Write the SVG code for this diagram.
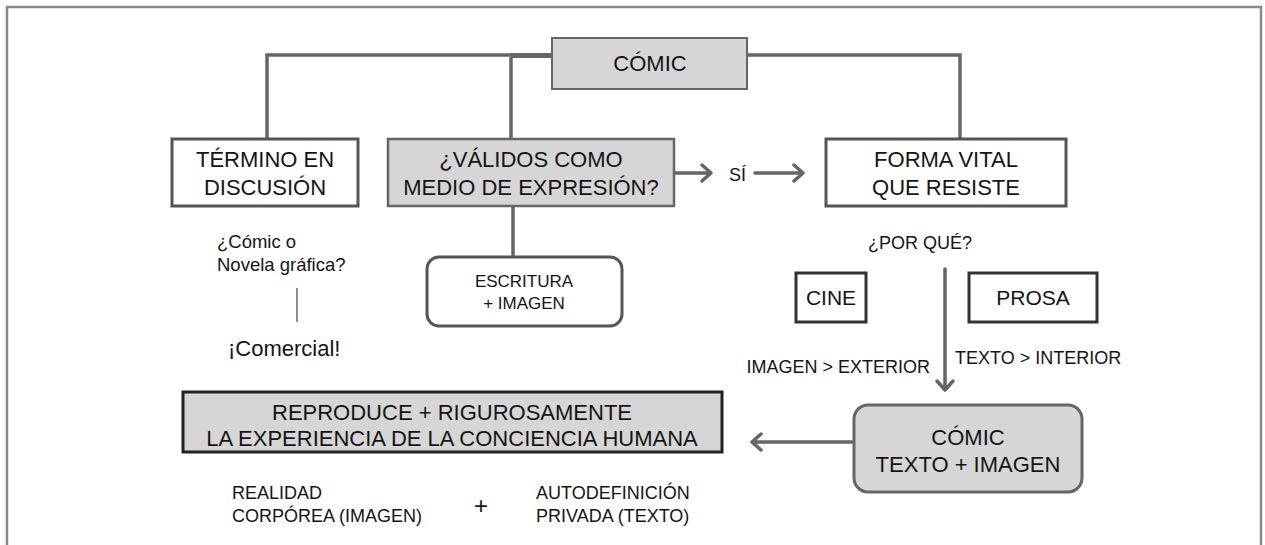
<svg xmlns="http://www.w3.org/2000/svg" width="1265" height="545" viewBox="0 0 1265 545">
<defs>
<style>
text{font-family:"Liberation Sans",Arial,sans-serif;fill:#141414}
.big{font-size:22px;text-anchor:middle}
.sm{font-size:18px}
.box{fill:#fff;stroke:#555;stroke-width:3}
.gbox{fill:#d6d6d6;stroke:#666;stroke-width:2}
.ln{stroke:#666;stroke-width:3.5;fill:none}
.arr{stroke:#666;stroke-width:3.5;fill:none;stroke-linecap:round;stroke-linejoin:round}
</style>
</defs>
<rect width="1265" height="545" fill="#fff"/>
<path d="M7,545 V7 H1261 V545" fill="none" stroke="#8a8a8a" stroke-width="2.5"/>

<g id="connectors">
<path class="ln" d="M267,138 V55 H552"/>
<path class="ln" d="M511,138 V57"/>
<path d="M511,53 H552 V58 H511 Z" fill="#666"/>
<path class="ln" d="M747,55 H960 V138"/>
<path class="ln" d="M513,207 V257"/>
<path class="ln" d="M297,288 V322" style="stroke-width:1.5"/>
<path class="arr" d="M675,173 H711 M702,165 L711,173 L702,181"/>
<path class="arr" d="M755,173 H803 M794,165 L803,173 L794,181"/>
<path class="arr" d="M945,269 V390 M937,381 L945,390 L953,381"/>
<path class="arr" d="M852,442 H752 M761,434 L752,442 L761,450"/>
</g>

<g id="comic">
<rect class="gbox" x="552" y="38" width="195" height="51"/>
<text class="big" x="650" y="71">CÓMIC</text>
</g>

<g id="termino">
<rect class="box" x="172" y="139" width="186" height="67"/>
<text class="big" x="265" y="167">TÉRMINO EN</text>
<text class="big" x="265" y="195">DISCUSIÓN</text>
</g>

<g id="validos">
<rect class="gbox" x="388" y="139" width="286" height="67" style="stroke-width:2.5"/>
<text class="big" x="531" y="167">¿VÁLIDOS COMO</text>
<text class="big" x="531" y="195">MEDIO DE EXPRESIÓN?</text>
</g>

<text class="sm" x="729" y="181">SÍ</text>

<g id="forma">
<rect class="box" x="826" y="139" width="240" height="67"/>
<text class="big" x="946" y="167">FORMA VITAL</text>
<text class="big" x="946" y="195">QUE RESISTE</text>
</g>

<g id="discusion-notes">
<text x="217" y="248" style="font-size:18.5px">¿Cómic o</text>
<text x="217" y="271" style="font-size:18.5px">Novela gráfica?</text>
<text x="228" y="356" style="font-size:22px">¡Comercial!</text>
</g>

<g id="escritura">
<rect class="box" x="427" y="257" width="195" height="69" rx="12"/>
<text x="524" y="287" style="font-size:17px;text-anchor:middle">ESCRITURA</text>
<text x="524" y="309" style="font-size:17px;text-anchor:middle">+ IMAGEN</text>
</g>

<text class="sm" x="920" y="249" text-anchor="middle">¿POR QUÉ?</text>

<g id="cine">
<rect class="box" x="796" y="273" width="70" height="49" style="stroke:#333"/>
<text class="big" x="831" y="305" style="font-size:21px">CINE</text>
</g>

<g id="prosa">
<rect class="box" x="969" y="273" width="128" height="49" style="stroke:#333"/>
<text class="big" x="1033" y="305" style="font-size:21px">PROSA</text>
</g>

<text class="sm" x="930" y="373" text-anchor="end">IMAGEN &gt; EXTERIOR</text>
<text class="sm" x="955" y="364">TEXTO &gt; INTERIOR</text>

<g id="reproduce">
<rect x="183" y="392" width="539" height="60" fill="#d6d6d6" stroke="#222" stroke-width="3"/>
<text class="big" x="452" y="420">REPRODUCE + RIGUROSAMENTE</text>
<text class="big" x="452" y="446">LA EXPERIENCIA DE LA CONCIENCIA HUMANA</text>
</g>

<g id="comic-texto">
<rect x="854" y="405" width="228" height="87" rx="14" fill="#d6d6d6" stroke="#666" stroke-width="3"/>
<text class="big" x="968" y="445">CÓMIC</text>
<text class="big" x="968" y="472">TEXTO + IMAGEN</text>
</g>

<g id="bottom-notes">
<text class="sm" x="232" y="499">REALIDAD</text>
<text class="sm" x="232" y="522">CORPÓREA (IMAGEN)</text>
<text x="481" y="514" style="font-size:24px;text-anchor:middle">+</text>
<text class="sm" x="536" y="499">AUTODEFINICIÓN</text>
<text class="sm" x="536" y="522">PRIVADA (TEXTO)</text>
</g>
</svg>
